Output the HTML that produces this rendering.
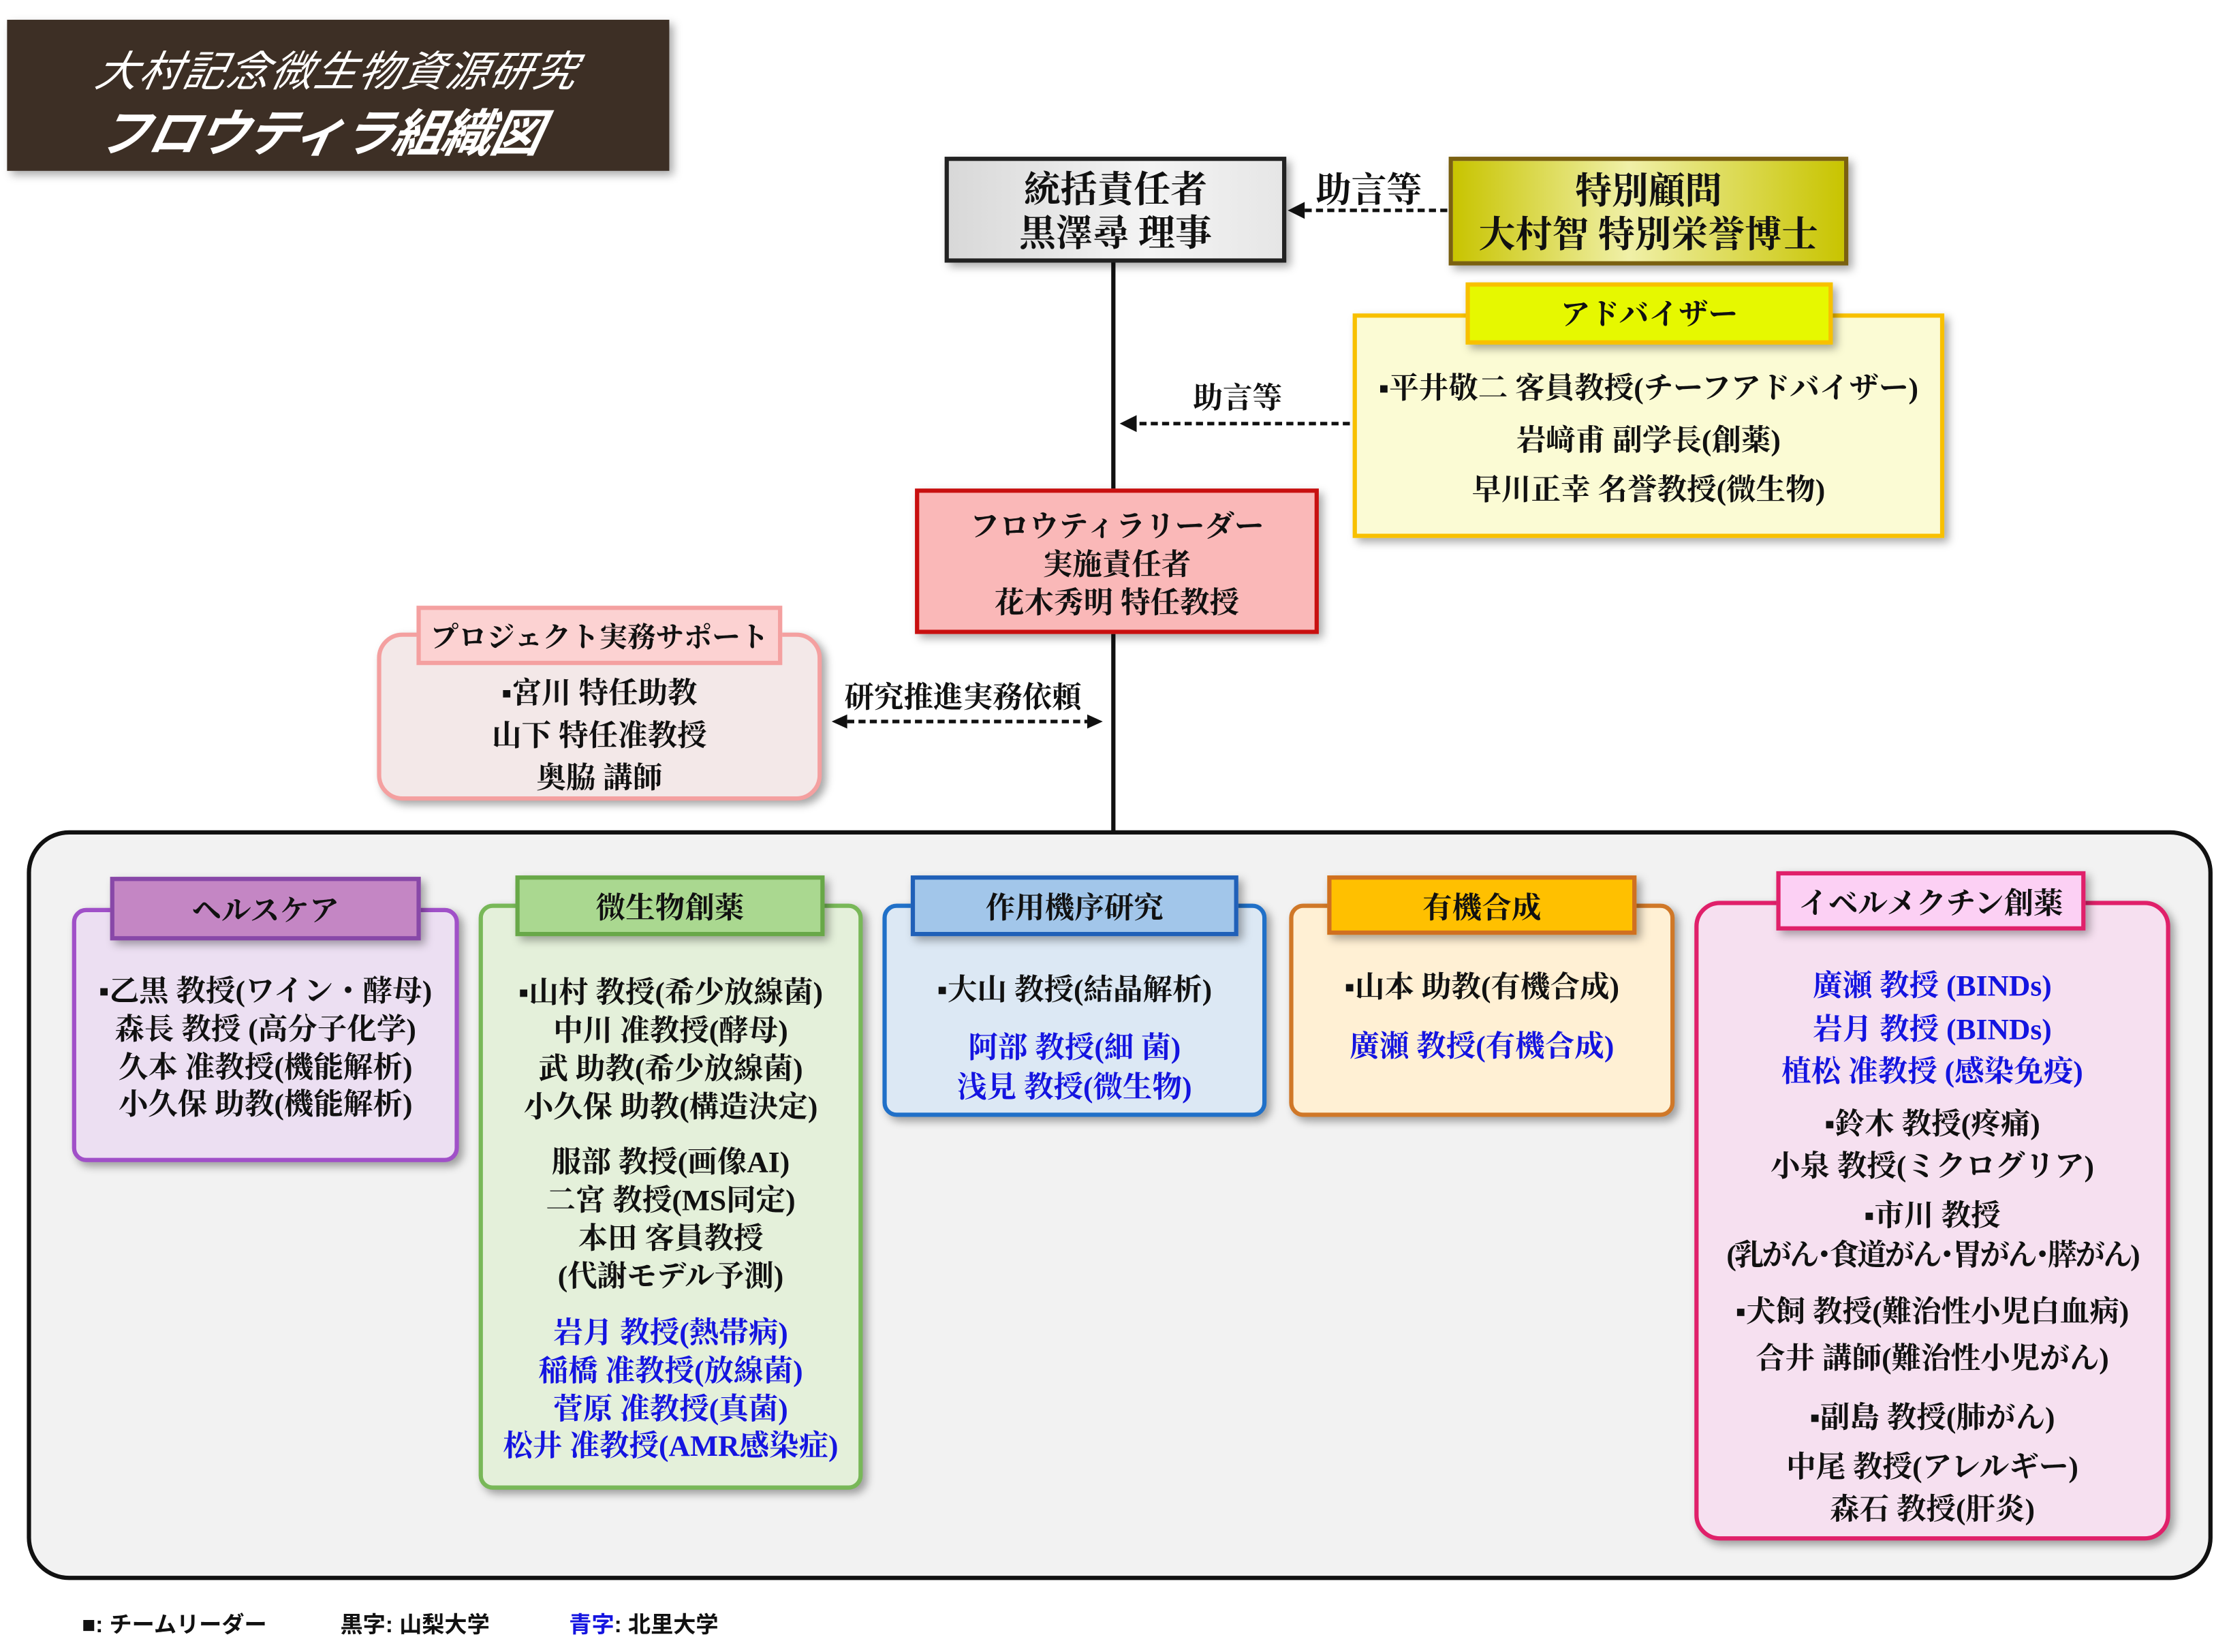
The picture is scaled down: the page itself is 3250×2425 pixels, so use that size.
<!DOCTYPE html>
<html><head><meta charset="utf-8"><style>
html,body{margin:0;padding:0;background:#fff;overflow:hidden}
#root{position:absolute;left:0;top:0;width:1568px;height:1170px;transform:scale(2.0727);transform-origin:0 0;font-family:"Liberation Serif","Noto Serif CJK SC","Noto Serif CJK JP",serif;font-weight:bold;color:#111}
.a{position:absolute;box-sizing:border-box}
.t{position:absolute;left:0;right:0;text-align:center;white-space:nowrap;line-height:1}
.b{color:#1414e0}
.sh{box-shadow:3px 3px 6px rgba(0,0,0,.35)}
</style></head><body><div id="root">

<div class="a sh" style="left:5px;top:14px;width:469px;height:107px;background:#3d2f25;color:#fff;font-style:italic;font-family:'Noto Sans CJK JP',sans-serif;font-weight:normal">
 <div style="position:absolute;left:64px;top:12px;font-size:30px;letter-spacing:1px;transform:skewX(-12deg)">大村記念微生物資源研究</div>
 <div style="position:absolute;left:66px;top:52px;font-size:36px;font-weight:bold;letter-spacing:-1px;transform:skewX(-12deg)">フロウティラ組織図</div>
</div>

<div class="a" style="left:787px;top:185px;width:3px;height:404px;background:#111"></div>

<div class="a sh" style="left:669px;top:111px;width:242px;height:75px;border:3px solid #222;background:linear-gradient(90deg,#d8d8d8,#f4f4f4 60%,#e6e6e6)">
 <div class="t" style="top:8px;font-size:26px">統括責任者</div>
 <div class="t" style="top:39px;font-size:26px">黒澤尋 理事</div>
</div>
<div class="a sh" style="left:1026px;top:111px;width:283px;height:77px;border:3px solid #7a6010;background:linear-gradient(90deg,#c8c400,#f0f0a8 45%,#c8c400)">
 <div class="t" style="top:9px;font-size:26px">特別顧問</div>
 <div class="t" style="top:40px;font-size:26px">大村智 特別栄誉博士</div>
</div>
<div class="a" style="left:932px;top:115px;font-size:25px">助言等</div>
<svg class="a" style="left:905px;top:140px" width="125" height="20"><line x1="120" y1="9" x2="18" y2="9" stroke="#111" stroke-width="2.5" stroke-dasharray="5,3"/><polygon points="7,9 19,3 19,15" fill="#111"/></svg>

<div class="a sh" style="left:958px;top:222px;width:419px;height:159px;border:3px solid #f8c000;background:#fbfbd4">
 <div class="t" style="top:40px;font-size:21px">▪平井敬二 客員教授(チーフアドバイザー)</div>
 <div class="t" style="top:77px;font-size:21px">岩﨑甫 副学長(創薬)</div>
 <div class="t" style="top:112px;font-size:21px">早川正幸 名誉教授(微生物)</div>
</div>
<div class="a sh" style="left:1038px;top:200px;width:260px;height:44px;border:3px solid #f8c000;background:#e6f800">
 <div class="t" style="top:10px;font-size:21px">アドバイザー</div>
</div>
<div class="a" style="left:845px;top:266px;font-size:21px">助言等</div>
<svg class="a" style="left:786px;top:291px" width="175" height="20"><line x1="170" y1="9" x2="18" y2="9" stroke="#111" stroke-width="2.5" stroke-dasharray="5,3"/><polygon points="7,9 19,3 19,15" fill="#111"/></svg>

<div class="a sh" style="left:648px;top:346px;width:286px;height:103px;border:3px solid #c81010;background:#fab8b8">
 <div class="t" style="top:14px;font-size:21px">フロウティラリーダー</div>
 <div class="t" style="top:41px;font-size:21px">実施責任者</div>
 <div class="t" style="top:68px;font-size:21px">花木秀明 特任教授</div>
</div>

<div class="a sh" style="left:267px;top:448px;width:315px;height:119px;border:3px solid #f4a0a0;border-radius:18px;background:#f3e8e8">
 <div class="t" style="top:30px;font-size:21px">▪宮川 特任助教</div>
 <div class="t" style="top:60px;font-size:21px">山下 特任准教授</div>
 <div class="t" style="top:90px;font-size:21px">奥脇 講師</div>
</div>
<div class="a" style="left:295px;top:429px;width:259px;height:42px;border:3px solid #f4a0a0;background:#fcd2d2">
 <div class="t" style="top:10px;font-size:20px">プロジェクト実務サポート</div>
</div>
<div class="a" style="left:598px;top:478px;font-size:21px">研究推進実務依頼</div>
<svg class="a" style="left:586px;top:502px" width="198" height="20"><line x1="14" y1="9" x2="184" y2="9" stroke="#111" stroke-width="2.5" stroke-dasharray="5,3"/><polygon points="3,9 14,4 14,14" fill="#111"/><polygon points="195,9 184,4 184,14" fill="#111"/></svg>

<div class="a" style="left:19px;top:588px;width:1548px;height:531px;border:3px solid #111;border-radius:30px;background:#f2f2f2"></div>

<div class="a sh" style="left:51px;top:643px;width:274px;height:180px;border:3px solid #a050c8;border-radius:10px;background:#ecdff2">
 <div class="t" style="top:46px;font-size:21px">▪乙黒 教授(ワイン・酵母)</div>
 <div class="t" style="top:73px;font-size:21px">森長 教授 (高分子化学)</div>
 <div class="t" style="top:100px;font-size:21px">久本 准教授(機能解析)</div>
 <div class="t" style="top:126px;font-size:21px">小久保 助教(機能解析)</div>
</div>
<div class="a sh" style="left:78px;top:621px;width:220px;height:45px;border:3px solid #8848a8;background:#c486c4"><div class="t" style="top:11px;font-size:21px">ヘルスケア</div></div>

<div class="a sh" style="left:339px;top:640px;width:272px;height:415px;border:3px solid #78b858;border-radius:10px;background:#e4f0da">
 <div class="t" style="top:50px;font-size:21px">▪山村 教授(希少放線菌)</div>
 <div class="t" style="top:77px;font-size:21px">中川 准教授(酵母)</div>
 <div class="t" style="top:104px;font-size:21px">武 助教(希少放線菌)</div>
 <div class="t" style="top:131px;font-size:21px">小久保 助教(構造決定)</div>
 <div class="t" style="top:170px;font-size:21px">服部 教授(画像AI)</div>
 <div class="t" style="top:197px;font-size:21px">二宮 教授(MS同定)</div>
 <div class="t" style="top:224px;font-size:21px">本田 客員教授</div>
 <div class="t" style="top:251px;font-size:21px">(代謝モデル予測)</div>
 <div class="t b" style="top:291px;font-size:21px">岩月 教授(熱帯病)</div>
 <div class="t b" style="top:318px;font-size:21px">稲橋 准教授(放線菌)</div>
 <div class="t b" style="top:345px;font-size:21px">菅原 准教授(真菌)</div>
 <div class="t b" style="top:371px;font-size:21px">松井 准教授(AMR感染症)</div>
</div>
<div class="a sh" style="left:365px;top:620px;width:219px;height:43px;border:3px solid #68a848;background:#aad890"><div class="t" style="top:10px;font-size:21px">微生物創薬</div></div>

<div class="a sh" style="left:625px;top:640px;width:272px;height:151px;border:3px solid #2070c8;border-radius:10px;background:#dce8f4">
 <div class="t" style="top:48px;font-size:21px">▪大山 教授(結晶解析)</div>
 <div class="t b" style="top:89px;font-size:21px">阿部 教授(細 菌)</div>
 <div class="t b" style="top:117px;font-size:21px">浅見 教授(微生物)</div>
</div>
<div class="a sh" style="left:645px;top:620px;width:232px;height:43px;border:3px solid #2060b8;background:#a2c6ea"><div class="t" style="top:10px;font-size:21px">作用機序研究</div></div>

<div class="a sh" style="left:913px;top:640px;width:273px;height:151px;border:3px solid #d07828;border-radius:10px;background:#fff0d4">
 <div class="t" style="top:46px;font-size:21px">▪山本 助教(有機合成)</div>
 <div class="t b" style="top:88px;font-size:21px">廣瀬 教授(有機合成)</div>
</div>
<div class="a sh" style="left:940px;top:620px;width:219px;height:42px;border:3px solid #d07020;background:#ffc000"><div class="t" style="top:10px;font-size:21px">有機合成</div></div>

<div class="a sh" style="left:1200px;top:638px;width:337px;height:453px;border:3px solid #e0206a;border-radius:18px;background:#f6e0f0">
 <div class="t b" style="top:47px;font-size:21px">廣瀬 教授 (BINDs)</div>
 <div class="t b" style="top:78px;font-size:21px">岩月 教授 (BINDs)</div>
 <div class="t b" style="top:108px;font-size:21px">植松 准教授 (感染免疫)</div>
 <div class="t" style="top:145px;font-size:21px">▪鈴木 教授(疼痛)</div>
 <div class="t" style="top:175px;font-size:21px">小泉 教授(ミクログリア)</div>
 <div class="t" style="top:210px;font-size:21px">▪市川 教授</div>
 <div class="t" style="top:238px;font-size:21px;letter-spacing:-1.5px">(乳がん･食道がん･胃がん･膵がん)</div>
 <div class="t" style="top:278px;font-size:21px">▪犬飼 教授(難治性小児白血病)</div>
 <div class="t" style="top:311px;font-size:21px">合井 講師(難治性小児がん)</div>
 <div class="t" style="top:353px;font-size:21px">▪副島 教授(肺がん)</div>
 <div class="t" style="top:388px;font-size:21px">中尾 教授(アレルギー)</div>
 <div class="t" style="top:418px;font-size:21px">森石 教授(肝炎)</div>
</div>
<div class="a sh" style="left:1258px;top:617px;width:219px;height:42px;border:3px solid #e0206a;background:#fcd0f4"><div class="t" style="top:10px;font-size:21px">イベルメクチン創薬</div></div>

<div class="a" style="left:58px;top:1137px;font-size:16px;font-family:'Liberation Sans','Noto Sans CJK JP',sans-serif;font-weight:bold;white-space:nowrap">■: チームリーダー</div>
<div class="a" style="left:241px;top:1137px;font-size:16px;font-family:'Liberation Sans','Noto Sans CJK JP',sans-serif;font-weight:bold;white-space:nowrap">黒字: 山梨大学</div>
<div class="a" style="left:403px;top:1137px;font-size:16px;font-family:'Liberation Sans','Noto Sans CJK JP',sans-serif;font-weight:bold;white-space:nowrap"><span class="b">青字</span>: 北里大学</div>

</div></body></html>
